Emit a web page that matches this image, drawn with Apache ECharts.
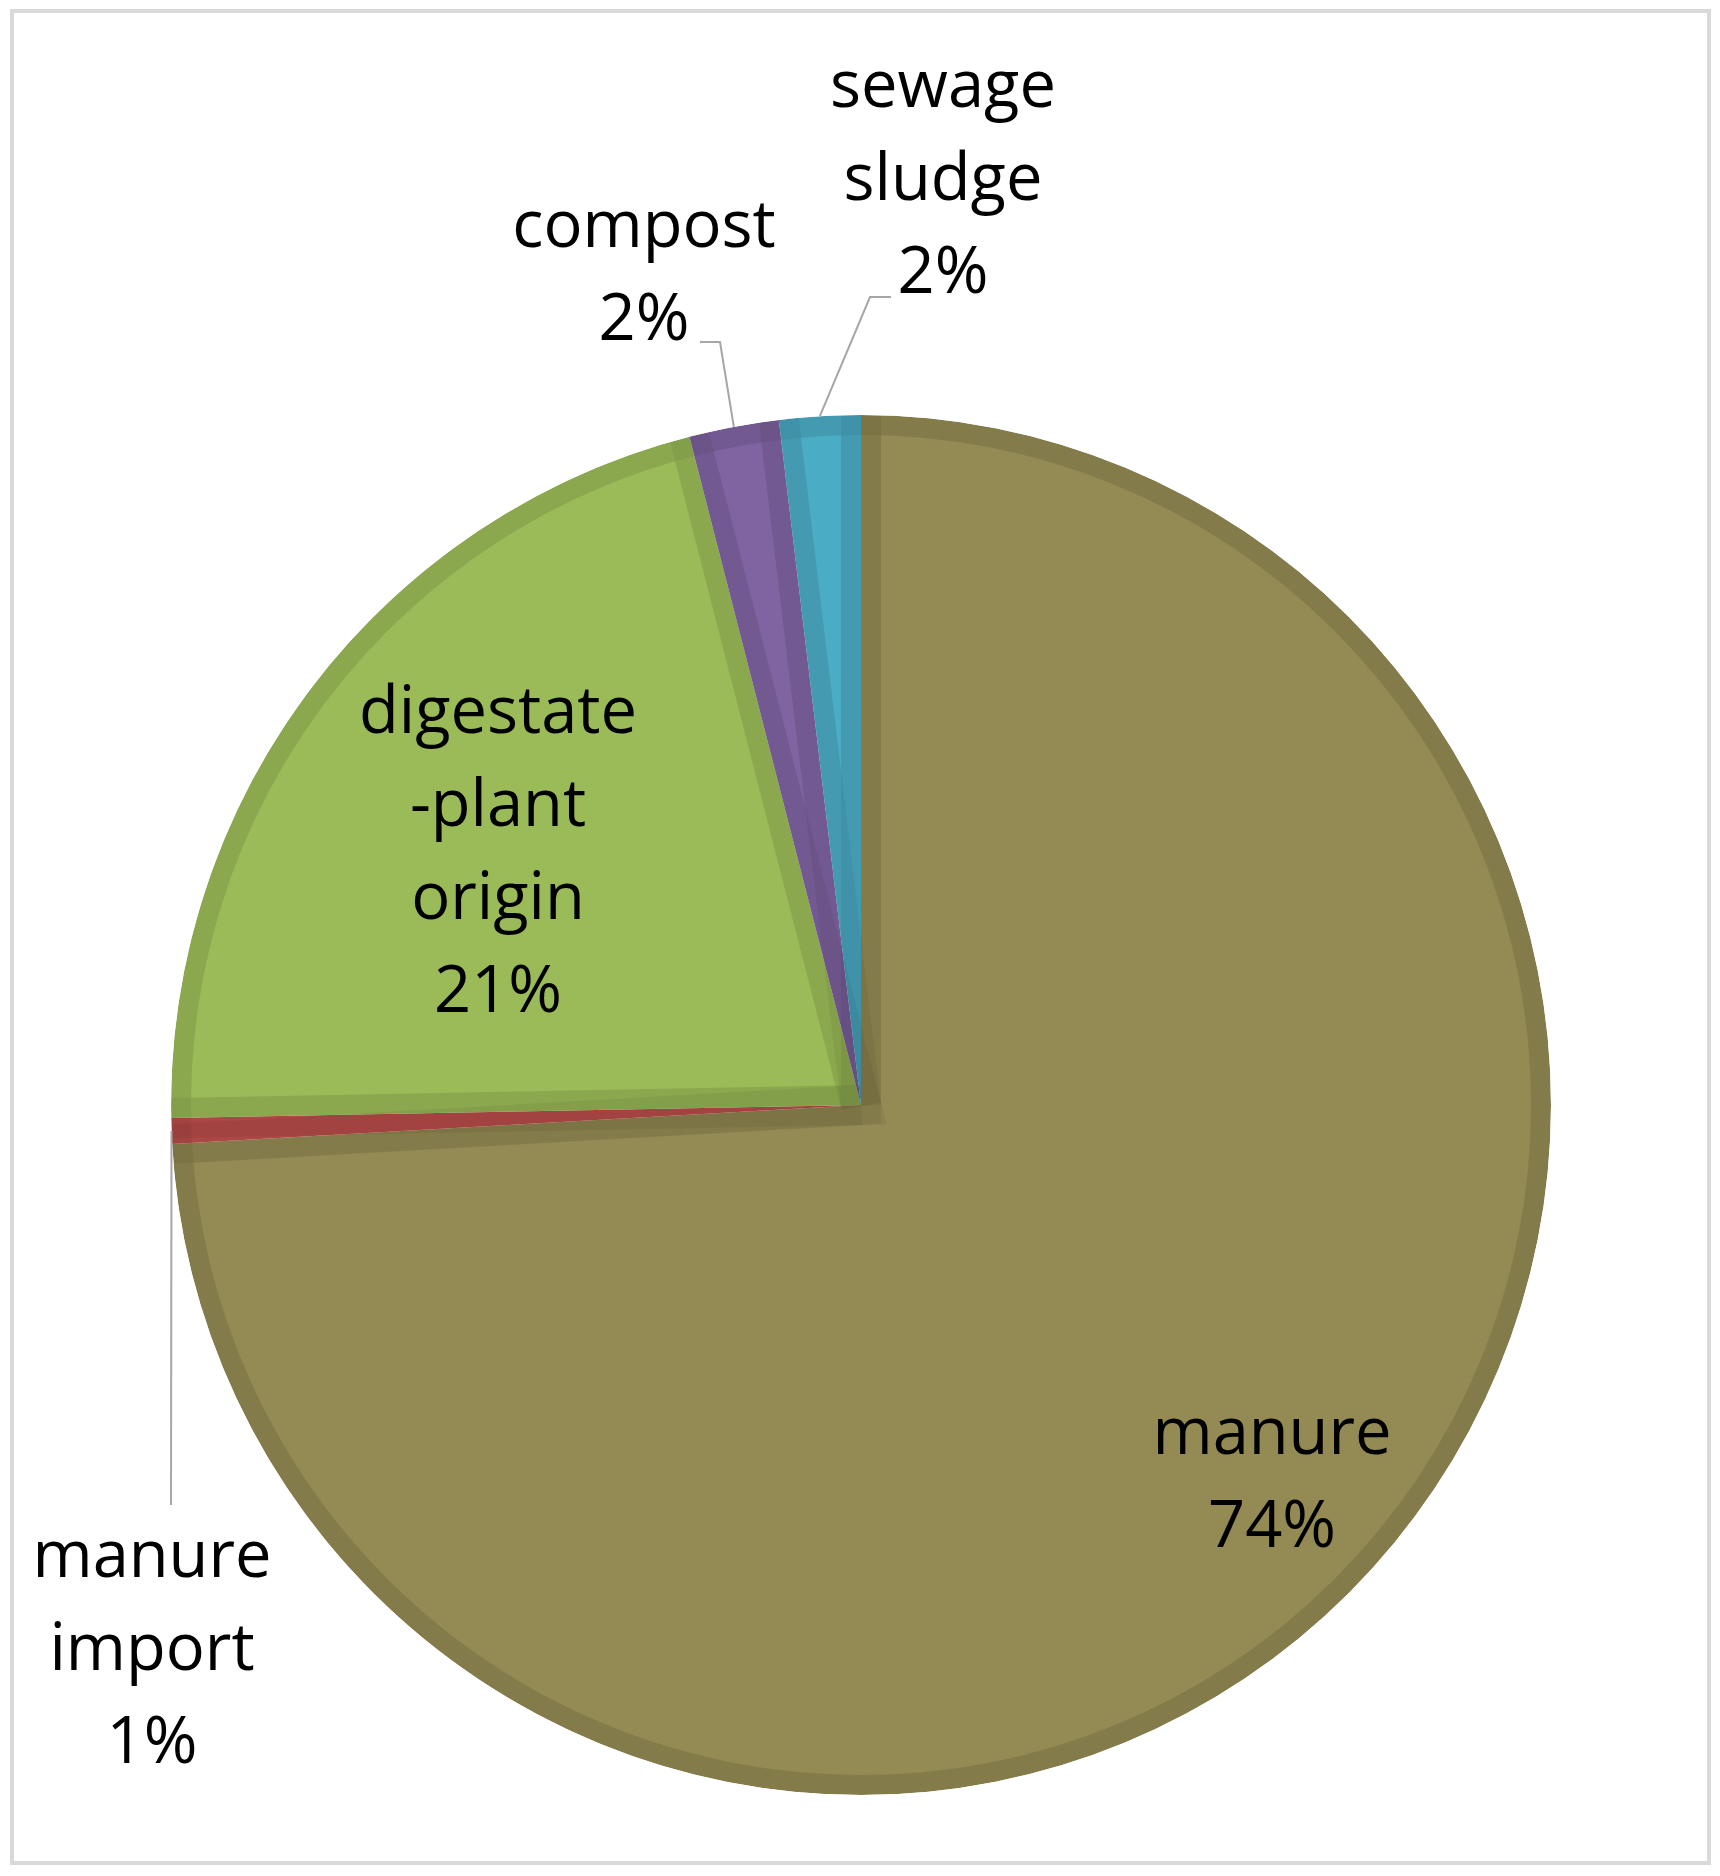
<!DOCTYPE html>
<html>
<head>
<meta charset="utf-8">
<title>Fertiliser sources</title>
<script src="https://cdn.jsdelivr.net/npm/echarts@6/dist/echarts.min.js"></script>
<style>
  html, body { margin: 0; padding: 0; background: #fff; }
  #main { position: absolute; left: 0; top: 0; width: 1720px; height: 1876px; }
  .frame { position: absolute; left: 10px; top: 9px; width: 1701px; height: 1856px;
           box-sizing: border-box; border: 4px solid #d9d9d9; pointer-events: none; }
</style>
</head>
<body>
<div id="main"></div>
<div class="frame"></div>
<script>
// slices, clockwise from 12 o'clock
var categories = ['manure', 'manure\nimport', 'digestate\n-plant\norigin', 'compost', 'sewage\nsludge'];
// shares in percent
var shares = [74.1, 0.6, 21.3, 2.1, 1.9];
var fillColors = ['#948A54', '#C0504D', '#9BBB59', '#8064A2', '#4BACC6'];

// label centres and leader-line elbows (px)
var labelSpots = [
  { x: 1272, y: 1482 },
  { x: 152, y: 1651, line: [[171, 1505], [171, 1505]] },
  { x: 498, y: 854 },
  { x: 644, y: 275, line: [[720, 342], [700, 342]] },
  { x: 943, y: 181, line: [[870, 297], [891, 297]] }
];

var CENTER = [861, 1105];
var R = 690;
var BAND = 20;              // dark inner band
var shade = 'rgba(0,0,0,0.0513)';  // two passes -> ~10% darker

var myChart = echarts.init(document.getElementById('main'));

var fillData = categories.map(function (name, i) {
  return { name: name, value: shares[i], itemStyle: { color: fillColors[i] } };
});
var plainData = categories.map(function (name, i) {
  return { name: name, value: shares[i] };
});
var labelData = categories.map(function (name, i) {
  var inside = !labelSpots[i].line;
  return {
    name: name,
    value: shares[i],
    label: { position: inside ? 'inside' : 'outside' },
    labelLine: { show: !inside }
  };
});

var base = {
  type: 'pie',
  center: CENTER,
  startAngle: 90,
  clockwise: true,
  avoidLabelOverlap: false,
  silent: true,
  animation: false,
  emphasis: { disabled: true },
  label: { show: false },
  labelLine: { show: false }
};

var option = {
  animation: false,
  series: [
    // light fill
    Object.assign({}, base, {
      radius: R,
      data: fillData,
      itemStyle: { borderWidth: 0 }
    }),
    // dark band along every edge of each slice
    Object.assign({}, base, {
      radius: R,
      data: plainData,
      itemStyle: {
        color: 'rgba(0,0,0,0)',
        borderColor: shade,
        borderWidth: BAND * 2,
        borderJoin: 'miter',
        borderMiterLimit: 10
      }
    }),
    // second pass along the arc
    Object.assign({}, base, {
      radius: [R - BAND, R],
      data: [{ name: 'ring', value: 1 }],
      itemStyle: { color: shade, borderWidth: 0 }
    }),
    // trims the stroke that spills past the rim
    Object.assign({}, base, {
      radius: [R, R + BAND + 12],
      data: [{ name: 'trim', value: 1 }],
      itemStyle: { color: '#fff', borderWidth: 0 }
    }),
    // labels
    Object.assign({}, base, {
      z: 5,
      radius: R,
      data: labelData,
      percentPrecision: 0,
      itemStyle: { color: 'rgba(0,0,0,0)', borderWidth: 0 },
      label: {
        show: true,
        formatter: '{b}\n{d}%',
        fontFamily: 'Open Sans',
        fontSize: 65,
        lineHeight: 93,
        color: '#000',
        width: 420
      },
      labelLine: {
        show: true,
        length: 15,
        length2: 15,
        lineStyle: { color: '#a6a6a6', width: 2 }
      },
      labelLayout: function (params) {
        var spot = labelSpots[params.dataIndex];
        var out = { x: spot.x, y: spot.y, align: 'center', verticalAlign: 'middle' };
        if (spot.line && params.labelLinePoints) {
          out.labelLinePoints = [params.labelLinePoints[0]].concat(spot.line);
        }
        return out;
      }
    })
  ]
};

myChart.setOption(option);
</script>
</body>
</html>
